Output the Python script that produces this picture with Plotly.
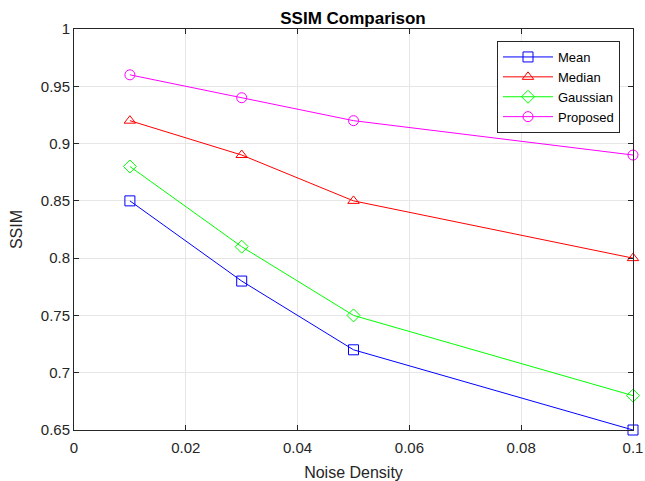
import plotly.graph_objects as go

noise_density = [0.01, 0.03, 0.05, 0.1]
mean_ssim = [0.85, 0.78, 0.72, 0.65]
median_ssim = [0.92, 0.89, 0.85, 0.80]
gaussian_ssim = [0.88, 0.81, 0.75, 0.68]
proposed_ssim = [0.96, 0.94, 0.92, 0.89]

x_ticks = [0, 0.02, 0.04, 0.06, 0.08, 0.1]
x_tick_labels = ["0", "0.02", "0.04", "0.06", "0.08", "0.1"]
y_ticks = [0.65, 0.7, 0.75, 0.8, 0.85, 0.9, 0.95, 1.0]
y_tick_labels = ["0.65", "0.7", "0.75", "0.8", "0.85", "0.9", "0.95", "1"]

series = [
    ("Mean", mean_ssim, "#0000FF", "square-open"),
    ("Median", median_ssim, "#FF0000", "triangle-up-open"),
    ("Gaussian", gaussian_ssim, "#00FF00", "diamond-open"),
    ("Proposed", proposed_ssim, "#FF00FF", "circle-open"),
]

FONT = "Liberation Sans, Arial, sans-serif"

fig = go.Figure()
for name, vals, color, sym in series:
    fig.add_trace(go.Scatter(
        x=noise_density, y=vals, name=name, mode="lines+markers",
        line=dict(color=color, width=1),
        marker=dict(symbol=sym, size=10, color=color, line=dict(width=1, color=color)),
        cliponaxis=False,
    ))

axis_common = dict(
    showline=True, linecolor="#262626", linewidth=1, mirror="ticks",
    ticks="inside", ticklen=5, tickcolor="#262626",
    showgrid=True, gridcolor="#E6E6E6", gridwidth=1,
    zeroline=False, automargin=False,
    tickfont=dict(family=FONT, size=15, color="#262626"),
    title_font=dict(family=FONT, size=16, color="#262626"),
)

fig.update_xaxes(range=[0, 0.1], tickvals=x_ticks, ticktext=x_tick_labels,
                 title_text="Noise Density", title_standoff=13,
                 ticklabelstandoff=4, **axis_common)
fig.update_yaxes(range=[0.65, 1.0], tickvals=y_ticks, ticktext=y_tick_labels,
                 title_text="SSIM", title_standoff=14, **axis_common)

W, H = 645, 481
fig.update_layout(
    width=W, height=H,
    margin=dict(l=74, r=12, t=29, b=51),
    paper_bgcolor="white", plot_bgcolor="white",
    title=dict(text="<b>SSIM Comparison</b>", x=353 / W, xanchor="center",
               y=1 - 18 / H, yanchor="middle",
               font=dict(family=FONT, size=17, color="#000000")),
    legend=dict(x=(620 - 74) / 559, xanchor="right", y=(430 - 41) / 401, yanchor="top",
                bgcolor="white", bordercolor="#262626", borderwidth=1,
                font=dict(family=FONT, size=13, color="#000000"),
                tracegroupgap=0, itemwidth=50),
    showlegend=True,
)

fig.write_html(
    "out.html",
    config={"displayModeBar": False},
    post_script="document.body.style.margin='0';document.body.style.overflow='hidden';",
)
